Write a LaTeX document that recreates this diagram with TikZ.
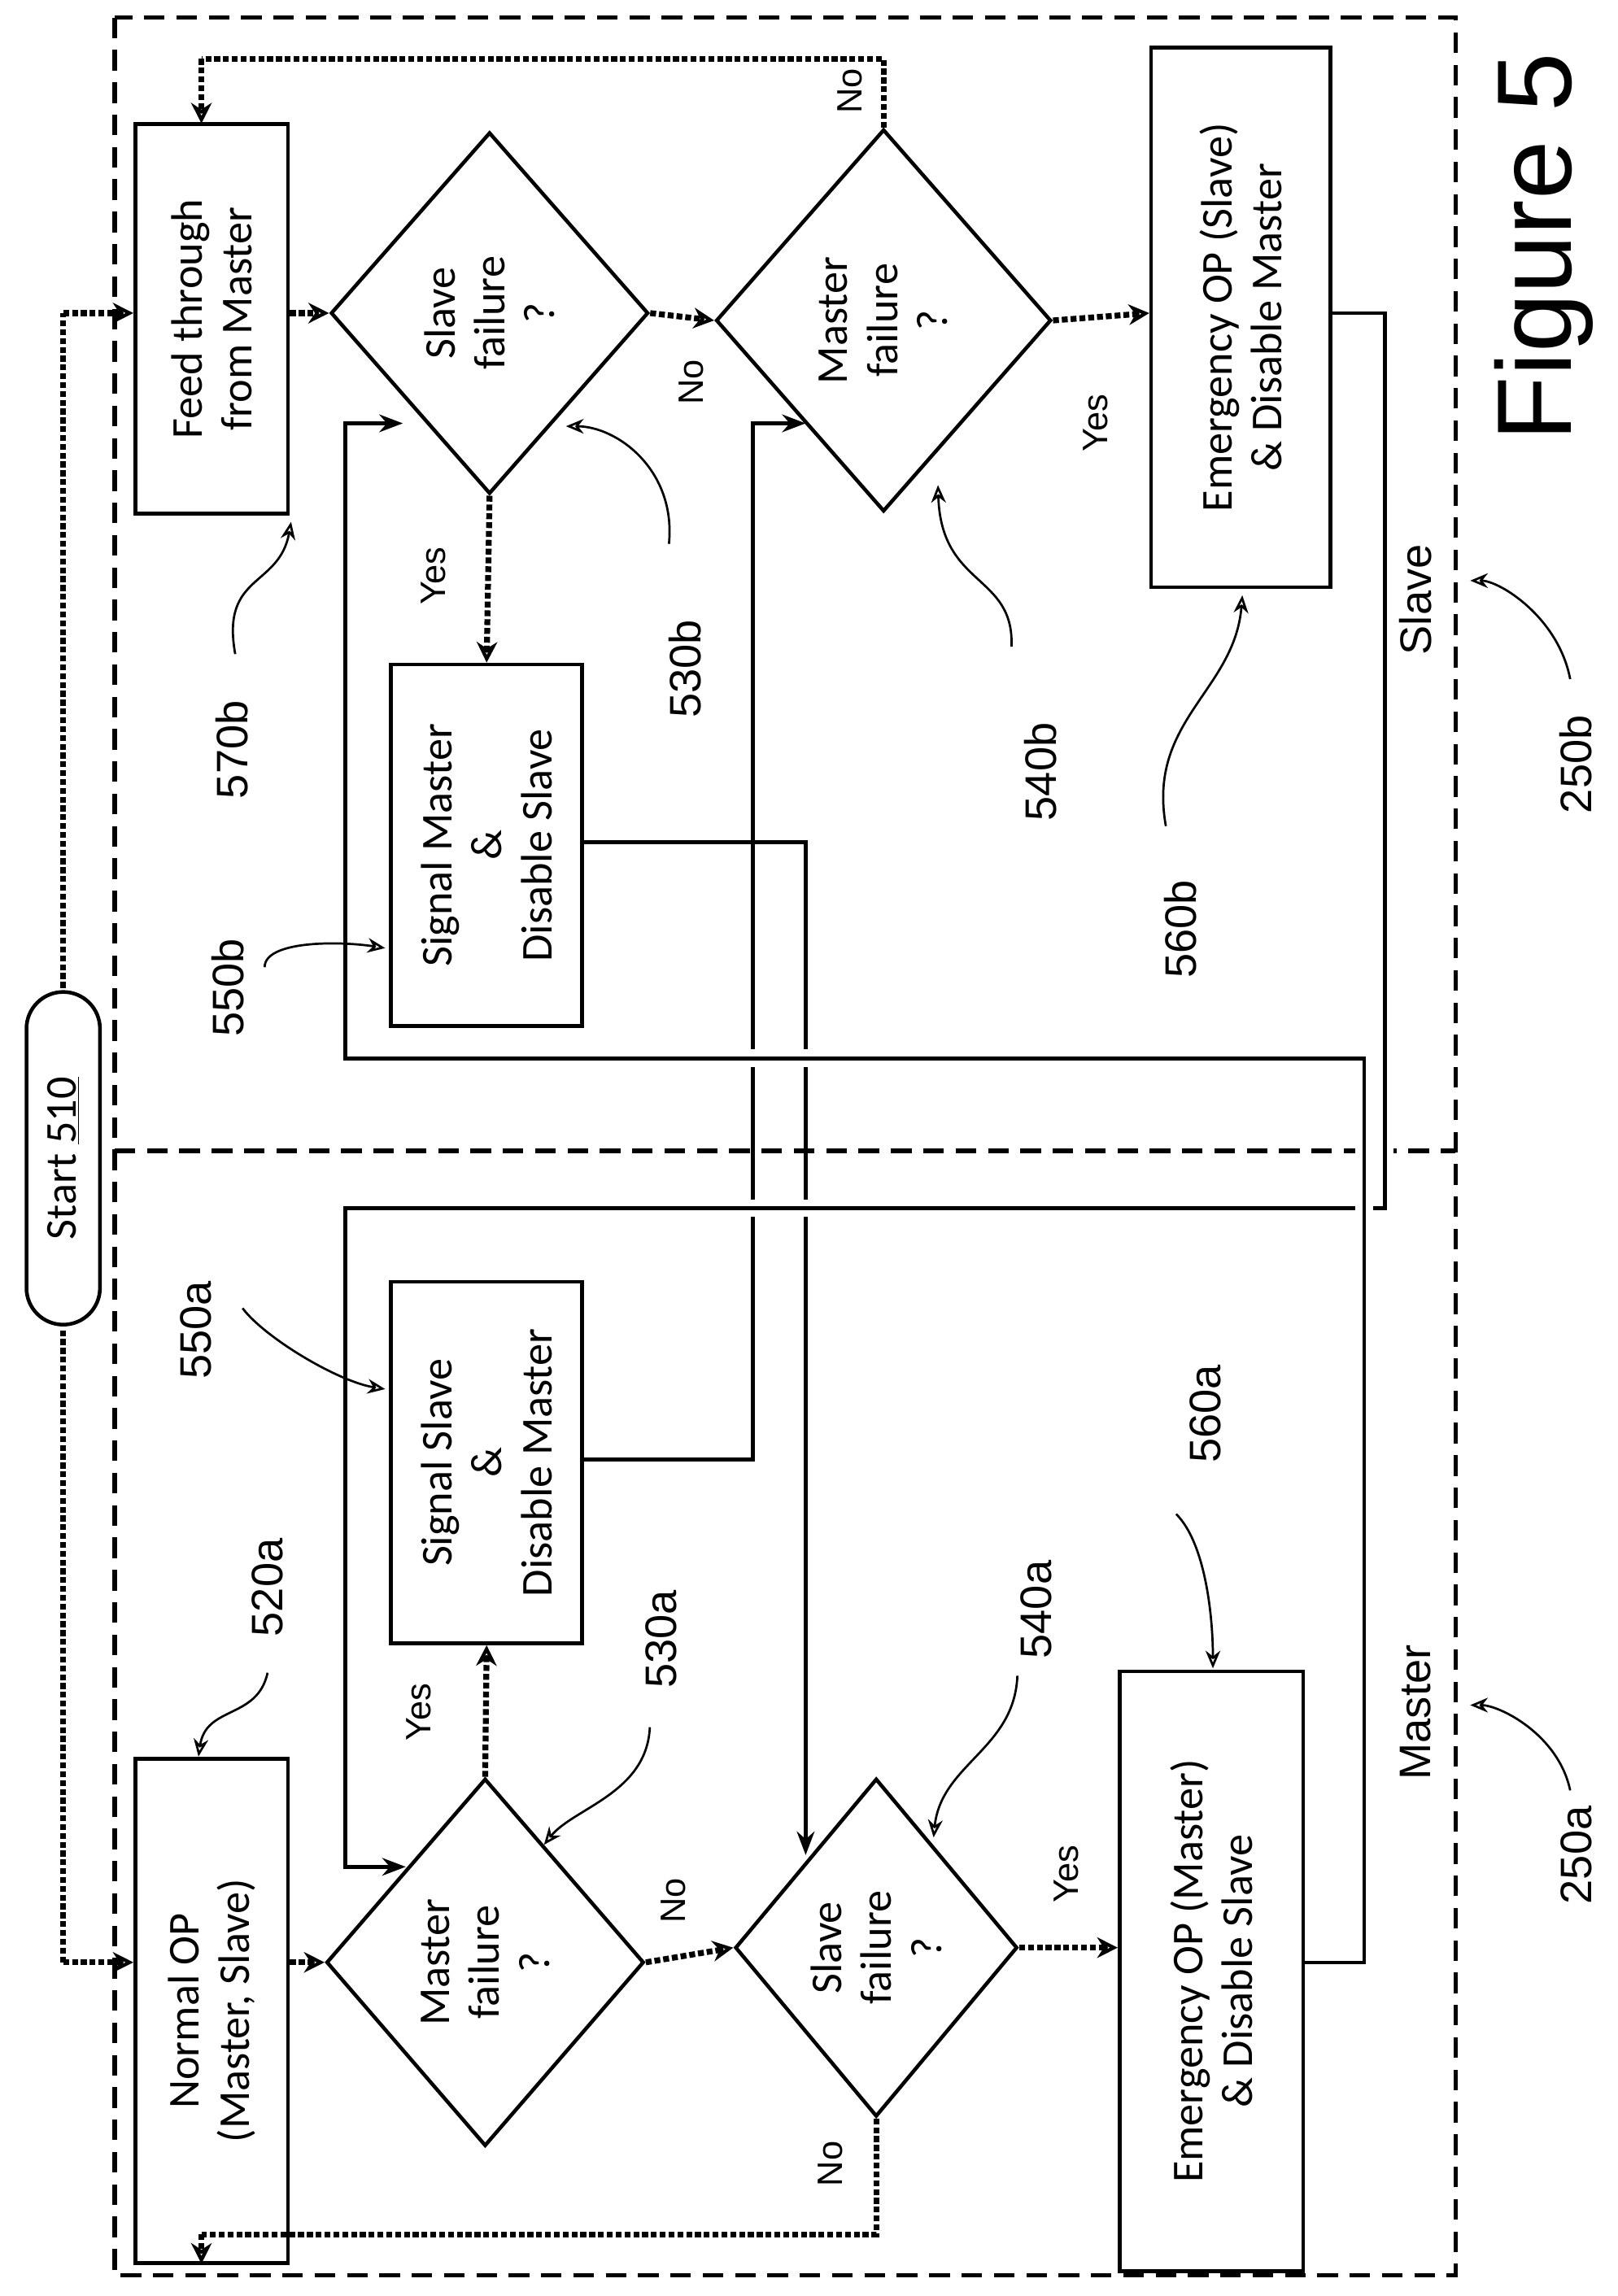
\documentclass[tikz,border=0pt]{standalone}
\usepackage{fontspec}
\setmainfont{Carlito}
\newfontfamily\lab{Liberation Sans}
\usetikzlibrary{arrows.meta,shapes.geometric,shapes.misc}
\begin{document}
\begin{tikzpicture}[x=1pt,y=1pt,
  box/.style={draw,line width=2.5pt,inner sep=0pt},
  dia/.style={draw,line width=2.5pt},
  txt/.style={rotate=90,align=center,font=\fontsize{30}{34}\selectfont},
  lbl/.style={rotate=90,font=\lab\fontsize{30}{34}\selectfont},
  yn/.style={rotate=90,font=\lab\fontsize{24}{28}\selectfont},
  dot/.style={line width=4pt,dotted,-{Stealth[length=14pt,width=14pt,open]}},
  dotl/.style={line width=4pt,dotted},
  sol/.style={line width=2.5pt},
  arr/.style={sol,-{Stealth[length=16pt,width=12pt,open]}},
  ptr/.style={line width=1.5pt,-{Stealth[length=12pt,width=10pt,open]}},
  gap/.style={preaction={draw,white,line width=12pt}}]
\useasboundingbox (0,0) rectangle (1100,-1562);
\fill[white] (0,0) rectangle (1100,-1562);
% frames
\draw[line width=3pt,dash pattern=on 14pt off 8pt] (78,-12) rectangle (990,-1548);
\draw[line width=3pt,dash pattern=on 14pt off 8pt] (78,-783) -- (990,-783);
% start
\node[draw,line width=2.5pt,rounded rectangle,rounded rectangle arc length=180,minimum width=233pt,minimum height=50pt,rotate=90] (start) at (43,-788) {};
\node[txt] at (43,-788) {Start \underline{510}};
\coordinate (s1) at (43,-672); \coordinate (s2) at (43,-905);
% slave half
\node[box,minimum width=104pt,minimum height=265pt] (feed) at (144,-217) {};
\node[txt] at (feed) {Feed through\\from Master};
\node[dia,diamond,minimum width=216pt,minimum height=246pt,inner sep=0pt] (sfb) at (333,-213) {};
\node[txt] at (sfb) {Slave\\failure\\?};
\node[box,minimum width=130pt,minimum height=246pt] (smb) at (331,-575) {};
\node[txt] at (smb) {Signal Master\\\&\\Disable Slave};
\node[dia,diamond,minimum width=228pt,minimum height=260pt,inner sep=0pt] (mfb) at (601,-218) {};
\node[txt] at (mfb) {Master\\failure\\?};
\node[box,minimum width=122pt,minimum height=367pt] (emb) at (844,-216) {};
\node[txt] at (emb) {Emergency OP (Slave)\\\& Disable Master};
% master half
\node[box,minimum width=104pt,minimum height=343pt] (norm) at (144,-1368) {};
\node[txt] at (norm) {Normal OP\\(Master, Slave)};
\node[dia,diamond,minimum width=216pt,minimum height=250pt,inner sep=0pt] (mfa) at (330,-1335) {};
\node[txt] at (mfa) {Master\\failure\\?};
\node[box,minimum width=130pt,minimum height=246pt] (ssa) at (331,-995) {};
\node[txt] at (ssa) {Signal Slave\\\&\\Disable Master};
\node[dia,diamond,minimum width=192pt,minimum height=230pt,inner sep=0pt] (sfa) at (596,-1325) {};
\node[txt] at (sfa) {Slave\\failure\\?};
\node[box,minimum width=125pt,minimum height=408pt] (ema) at (824,-1341) {};
\node[txt] at (ema) {Emergency OP (Master)\\\& Disable Slave};
% dotted flow
\draw[dotl] (s1) -- (43,-213);
\draw[dot] (43,-213) -- (feed.west |- 0,-213);
\draw[dotl] (s2) -- (43,-1335);
\draw[dot] (43,-1335) -- (norm.west |- 0,-1335);
\draw[dot] (feed.east |- 0,-213) -- (sfb.west);
\draw[dot] (sfb.east) -- (mfb.west);
\draw[dot] (sfb.south) -- (smb.north);
\draw[dot] (mfb.east) -- (emb.west |- 0,-213);
\draw[dotl] (mfb.north) -- (601,-40) -- (137,-40);
\draw[dot] (137,-40) -- (137,-84);
\draw[dot] (norm.east |- 0,-1335) -- (mfa.west);
\draw[dot] (mfa.east) -- (sfa.west);
\draw[dot] (mfa.north) -- (ssa.south);
\draw[dot] (sfa.east) -- (ema.west |- 0,-1325);
\draw[dotl] (sfa.south) -- (596,-1520) -- (137,-1520);
\draw[dot] (137,-1520) -- (137,-1540);
\node[yn] at (470,-260) {No};
\node[yn] at (295,-392) {Yes};
\node[yn] at (745,-288) {Yes};
\node[yn] at (578,-62) {No};
\node[yn] at (458,-1293) {No};
\node[yn] at (285,-1165) {Yes};
\node[yn] at (725,-1275) {Yes};
\node[yn] at (565,-1472) {No};
% solid connectors
\draw[sol] (smb.east |- 0,-573) -- (548,-573) -- (548,-1180);
\draw[arr] (548,-1180) -- (548,-1262);
\draw[sol] (ssa.east |- 0,-993) -- (512,-993) -- (512,-330);
\draw[arr] (512,-330) -- (512,-288) -- (548,-288);
\draw[sol,gap] (emb.east |- 0,-213) -- (942,-213) -- (942,-822) -- (235,-822) -- (235,-1230);
\draw[arr] (235,-1230) -- (235,-1270) -- (276,-1270);
\draw[sol,gap] (ema.east |- 0,-1335) -- (928,-1335) -- (928,-720) -- (235,-720) -- (235,-330);
\draw[arr] (235,-330) -- (235,-288) -- (274,-288);
% labels
\node[lbl] at (158,-510) {570b};
\node[lbl] at (466,-455) {530b};
\node[lbl] at (708,-525) {540b};
\node[lbl] at (803,-632) {560b};
\node[lbl] at (155,-672) {550b};
\node[lbl] at (133,-905) {550a};
\node[lbl] at (182,-1080) {520a};
\node[lbl] at (450,-1115) {530a};
\node[lbl] at (705,-1095) {540a};
\node[lbl] at (820,-962) {560a};
\node[lbl] at (963,-408) {Slave};
\node[lbl] at (963,-1165) {Master};
\node[lbl] at (1072,-520) {250b};
\node[lbl] at (1072,-1262) {250a};
\node[rotate=90,font=\lab\fontsize{72}{80}\selectfont] at (1050,-168) {Figure 5};
% pointers
\draw[ptr] (160,-445) .. controls (150,-390) and (190,-400) .. (198,-355);
\draw[ptr] (455,-370) .. controls (460,-320) and (420,-290) .. (385,-290);
\draw[ptr] (688,-440) .. controls (690,-390) and (640,-400) .. (638,-330);
\draw[ptr] (793,-562) .. controls (780,-490) and (840,-470) .. (845,-405);
\draw[ptr] (180,-658) .. controls (180,-640) and (230,-640) .. (262,-645);
\draw[ptr] (165,-890) .. controls (180,-910) and (230,-940) .. (262,-945);
\draw[ptr] (182,-1138) .. controls (175,-1170) and (140,-1160) .. (135,-1195);
\draw[ptr] (442,-1175) .. controls (440,-1220) and (390,-1230) .. (370,-1255);
\draw[ptr] (692,-1140) .. controls (690,-1190) and (640,-1200) .. (635,-1250);
\draw[ptr] (800,-1030) .. controls (820,-1050) and (825,-1100) .. (825,-1135);
\draw[ptr] (1068,-462) .. controls (1060,-420) and (1020,-395) .. (1000,-395);
\draw[ptr] (1068,-1218) .. controls (1060,-1180) and (1020,-1160) .. (1000,-1160);
\end{tikzpicture}
\end{document}
